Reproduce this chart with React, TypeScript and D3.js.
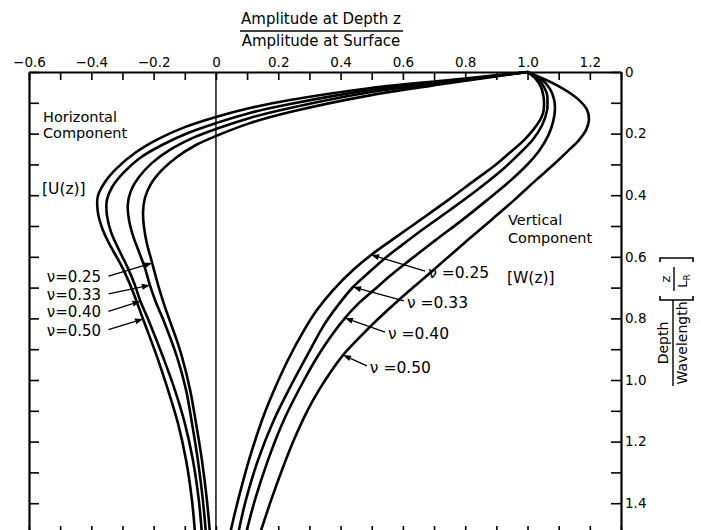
import { useEffect, useRef } from "react";
import * as d3 from "d3";

type Pt = [number, number]; // [amplitude ratio, depth / wavelength]

const poissonRatios = ["0.25", "0.33", "0.40", "0.50"];

// Horizontal component U(z) / U(0)
const horizNu025: Pt[] = [
  [1.0, 0], [0.751, 0.036], [0.498, 0.075], [0.238, 0.13], [0.109, 0.166], [0, 0.208],
  [-0.064, 0.237], [-0.125, 0.276], [-0.173, 0.318], [-0.209, 0.364], [-0.228, 0.409],
  [-0.234, 0.455], [-0.231, 0.503], [-0.222, 0.555], [-0.209, 0.604], [-0.196, 0.653],
  [-0.183, 0.701], [-0.167, 0.753], [-0.148, 0.808], [-0.128, 0.864], [-0.109, 0.925],
  [-0.083, 1.032], [-0.064, 1.14], [-0.045, 1.26], [-0.029, 1.39], [-0.019, 1.5],
];
const horizNu033: Pt[] = [
  [1.0, 0], [0.751, 0.032], [0.498, 0.065], [0.238, 0.117], [0.109, 0.149], [0, 0.185],
  [-0.074, 0.214], [-0.148, 0.253], [-0.205, 0.295], [-0.247, 0.341], [-0.273, 0.386],
  [-0.283, 0.432], [-0.279, 0.481], [-0.266, 0.532], [-0.247, 0.584], [-0.228, 0.636],
  [-0.212, 0.692], [-0.193, 0.747], [-0.17, 0.802], [-0.125, 0.925], [-0.096, 1.032],
  [-0.077, 1.14], [-0.058, 1.26], [-0.042, 1.39], [-0.032, 1.5],
];
const horizNu040: Pt[] = [
  [1.0, 0], [0.751, 0.029], [0.498, 0.058], [0.238, 0.104], [0.109, 0.133], [0, 0.166],
  [-0.09, 0.198], [-0.173, 0.237], [-0.244, 0.279], [-0.295, 0.325], [-0.331, 0.37],
  [-0.35, 0.416], [-0.35, 0.464], [-0.337, 0.519], [-0.311, 0.578], [-0.283, 0.636],
  [-0.26, 0.692], [-0.244, 0.74], [-0.218, 0.802], [-0.17, 0.925], [-0.132, 1.032],
  [-0.1, 1.14], [-0.074, 1.26], [-0.055, 1.39], [-0.045, 1.5],
];
const horizNu050: Pt[] = [
  [1.0, 0], [0.751, 0.026], [0.498, 0.052], [0.238, 0.091], [0.109, 0.117], [0, 0.146],
  [-0.1, 0.179], [-0.186, 0.218], [-0.26, 0.263], [-0.318, 0.312], [-0.356, 0.357],
  [-0.379, 0.403], [-0.379, 0.455], [-0.363, 0.513], [-0.337, 0.568], [-0.308, 0.62],
  [-0.286, 0.666], [-0.266, 0.714], [-0.234, 0.802], [-0.189, 0.925], [-0.154, 1.032],
  [-0.122, 1.14], [-0.096, 1.26], [-0.077, 1.39], [-0.067, 1.5],
];

// Vertical component W(z) / W(0)
const vertNu025: Pt[] = [
  [1.0, 0], [1.027, 0.023], [1.043, 0.049], [1.051, 0.078], [1.053, 0.107], [1.05, 0.133],
  [1.04, 0.156], [1.018, 0.188], [0.989, 0.221], [0.953, 0.253], [0.897, 0.302],
  [0.831, 0.351], [0.745, 0.416], [0.655, 0.481], [0.565, 0.545], [0.498, 0.594],
  [0.44, 0.643], [0.376, 0.708], [0.324, 0.773], [0.283, 0.838], [0.231, 0.935],
  [0.173, 1.065], [0.148, 1.13], [0.106, 1.26], [0.071, 1.39], [0.045, 1.5],
];
const vertNu033: Pt[] = [
  [1.0, 0], [1.034, 0.023], [1.053, 0.049], [1.063, 0.075], [1.064, 0.097], [1.063, 0.123],
  [1.047, 0.172], [1.016, 0.221], [0.97, 0.269], [0.918, 0.318], [0.838, 0.383],
  [0.751, 0.448], [0.661, 0.513], [0.597, 0.562], [0.536, 0.61], [0.482, 0.659],
  [0.44, 0.698], [0.392, 0.757], [0.347, 0.821], [0.302, 0.903], [0.25, 1.0],
  [0.186, 1.13], [0.135, 1.26], [0.096, 1.39], [0.071, 1.5],
];
const vertNu040: Pt[] = [
  [1.0, 0], [1.047, 0.026], [1.072, 0.055], [1.085, 0.088], [1.088, 0.123], [1.082, 0.162],
  [1.067, 0.205], [1.039, 0.253], [0.998, 0.302], [0.947, 0.351], [0.87, 0.416],
  [0.79, 0.481], [0.706, 0.545], [0.623, 0.61], [0.562, 0.659], [0.507, 0.708],
  [0.453, 0.756], [0.414, 0.799], [0.372, 0.854], [0.329, 0.919], [0.283, 1.0],
  [0.218, 1.13], [0.167, 1.26], [0.125, 1.39], [0.096, 1.5],
];
const vertNu050: Pt[] = [
  [1.0, 0], [1.098, 0.045], [1.162, 0.088], [1.191, 0.123], [1.197, 0.156], [1.188, 0.188],
  [1.165, 0.221], [1.13, 0.256], [1.082, 0.302], [1.027, 0.351], [0.957, 0.416],
  [0.883, 0.481], [0.809, 0.545], [0.735, 0.61], [0.661, 0.675], [0.587, 0.74],
  [0.517, 0.805], [0.453, 0.87], [0.408, 0.919], [0.372, 0.968], [0.331, 1.032],
  [0.295, 1.097], [0.25, 1.195], [0.212, 1.292], [0.177, 1.39], [0.141, 1.5],
];

const horizCurves = [horizNu025, horizNu033, horizNu040, horizNu050];
const vertCurves = [vertNu025, vertNu033, vertNu040, vertNu050];

// axis ticks
const ampTicks = d3.range(-6, 14).map((i) => i / 10);
const ampLabelValues = [-0.6, -0.4, -0.2, 0, 0.2, 0.4, 0.6, 0.8, 1.0, 1.2];
const ampLabelText = ["−0.6", "−0.4", "−0.2", "0", "0.2", "0.4", "0.6", "0.8", "1.0", "1.2"];
const depthTicks = d3.range(0, 16).map((i) => i / 10);
const depthLabelValues = [0, 0.2, 0.4, 0.6, 0.8, 1.0, 1.2, 1.4];
const depthLabelText = ["0", "0.2", "0.4", "0.6", "0.8", "1.0", "1.2", "1.4"];

// ν callouts: text baseline depth and arrow-tip depth on the matching curve
const horizLabelDepth = [0.682, 0.74, 0.797, 0.856];
const horizTipDepth = [0.62, 0.692, 0.744, 0.802];
const vertLabelDepth = [0.669, 0.766, 0.867, 0.977];
const vertLabelAmp = [0.681, 0.613, 0.552, 0.494];
const vertTipDepth = [0.594, 0.698, 0.799, 0.919];

const FONT = "DejaVu Sans";

function ampAt(curve: Pt[], depth: number) {
  for (let i = 1; i < curve.length; i++) {
    const [a0, d0] = curve[i - 1];
    const [a1, d1] = curve[i];
    if (depth >= d0 && depth <= d1) return a0 + ((depth - d0) / (d1 - d0)) * (a1 - a0);
  }
  return curve[curve.length - 1][0];
}

export default function App() {
  const svgRef = useRef<SVGSVGElement>(null);

  useEffect(() => {
    if (!svgRef.current) return;
    const width = 701;
    const height = 530;

    const x = d3.scaleLinear().domain([-0.6, 1.3]).range([29, 621]);
    const y = d3.scaleLinear().domain([0, 1.5]).range([72, 534]);

    const svg = d3.select(svgRef.current).attr("width", width).attr("height", height);
    svg.selectAll("*").remove();

    svg.append("rect").attr("width", width).attr("height", height).attr("fill", "#fff");

    const fmt = (vals: number[], texts: string[]) => (d: any) => {
      const i = vals.findIndex((v) => Math.abs(v - Number(d)) < 1e-6);
      return i >= 0 ? texts[i] : "";
    };

    const styleAxis = (g: any) => {
      g.select(".domain").attr("stroke", "#000").attr("stroke-width", 2.2);
      g.selectAll(".tick line").attr("stroke", "#000").attr("stroke-width", 1.6);
      g.selectAll(".tick text")
        .attr("fill", "#000")
        .attr("font-size", "13.5px")
        .attr("font-family", FONT);
    };

    // top axis (amplitude)
    svg.append("g")
      .attr("transform", `translate(0,${y(0)})`)
      .call(d3.axisTop(x).tickValues(ampTicks).tickSizeInner(-8).tickSizeOuter(0).tickPadding(5)
        .tickFormat(fmt(ampLabelValues, ampLabelText)))
      .call(styleAxis);

    // bottom axis, ticks only
    svg.append("g")
      .attr("transform", `translate(0,${y(1.5)})`)
      .call(d3.axisBottom(x).tickValues(ampTicks).tickSizeInner(-8).tickSizeOuter(0).tickFormat(() => ""))
      .call(styleAxis);

    // left axis, ticks only
    svg.append("g")
      .attr("transform", `translate(${x(-0.6)},0)`)
      .call(d3.axisLeft(y).tickValues(depthTicks).tickSizeInner(-10).tickSizeOuter(0).tickFormat(() => ""))
      .call(styleAxis);

    // right axis (depth)
    svg.append("g")
      .attr("transform", `translate(${x(1.3)},0)`)
      .call(d3.axisRight(y).tickValues(depthTicks).tickSizeInner(-10).tickSizeOuter(0).tickPadding(4)
        .tickFormat(fmt(depthLabelValues, depthLabelText)))
      .call(styleAxis);

    // zero line
    svg.append("line")
      .attr("x1", x(0)).attr("x2", x(0))
      .attr("y1", y(0)).attr("y2", y(1.5))
      .attr("stroke", "#000").attr("stroke-width", 1.4);

    const line = d3.line<Pt>()
      .x((d) => x(d[0]))
      .y((d) => y(d[1]))
      .curve(d3.curveCatmullRom.alpha(0.5));

    [...horizCurves, ...vertCurves].forEach((c) => {
      svg.append("path")
        .datum(c)
        .attr("fill", "none")
        .attr("stroke", "#000")
        .attr("stroke-width", 2.6)
        .attr("stroke-linejoin", "round")
        .attr("d", line);
    });

    const arrow = (x1: number, y1: number, x2: number, y2: number) => {
      const ang = Math.atan2(y2 - y1, x2 - x1);
      const len = 8;
      const hw = 3;
      const bx = x2 - len * Math.cos(ang);
      const by = y2 - len * Math.sin(ang);
      svg.append("line")
        .attr("x1", x1).attr("y1", y1).attr("x2", bx).attr("y2", by)
        .attr("stroke", "#000").attr("stroke-width", 1.3);
      svg.append("path")
        .attr("d", `M${x2},${y2}L${bx - hw * Math.sin(ang)},${by + hw * Math.cos(ang)}L${bx + hw * Math.sin(ang)},${by - hw * Math.cos(ang)}Z`)
        .attr("fill", "#000");
    };

    const label = (tx: number, ty: number, s: string, size = 14.5, anchor = "start") =>
      svg.append("text")
        .attr("x", tx).attr("y", ty)
        .attr("font-family", FONT)
        .attr("font-size", `${size}px`)
        .attr("text-anchor", anchor)
        .attr("fill", "#000")
        .text(s);

    // ν callouts on the horizontal component
    poissonRatios.forEach((nu, i) => {
      const by = y(horizLabelDepth[i]);
      label(x(-0.543), by, `ν=${nu}`, 15);
      const tipD = horizTipDepth[i];
      arrow(x(-0.345), by - 6, x(ampAt(horizCurves[i], tipD)), y(tipD));
    });

    // ν callouts on the vertical component
    poissonRatios.forEach((nu, i) => {
      const tx = x(vertLabelAmp[i]);
      const by = y(vertLabelDepth[i]);
      label(tx, by, `ν =${nu}`, 15.5);
      const tipD = vertTipDepth[i];
      arrow(tx - 3, by - 7, x(ampAt(vertCurves[i], tipD)), y(tipD));
    });

    // component captions
    label(43, 122, "Horizontal");
    label(43, 138, "Component");
    label(42, 194, "[U(z)]", 15.5);
    label(508, 225, "Vertical");
    label(508, 243, "Component");
    label(507, 283, "[W(z)]", 15.5);

    // title fraction
    label(321, 24, "Amplitude  at  Depth  z", 15, "middle");
    svg.append("line")
      .attr("x1", 240).attr("x2", 403).attr("y1", 31).attr("y2", 31)
      .attr("stroke", "#000").attr("stroke-width", 1.4);
    label(321, 46, "Amplitude  at  Surface", 15, "middle");

    // right side rotated label: Depth / Wavelength  [z / L_R]
    const g1 = svg.append("g").attr("transform", "translate(673,343) rotate(-90)");
    g1.append("text").attr("x", 0).attr("y", -5).attr("text-anchor", "middle")
      .attr("font-family", FONT).attr("font-size", "14px").text("Depth");
    g1.append("line").attr("x1", -43).attr("x2", 43).attr("y1", 0).attr("y2", 0)
      .attr("stroke", "#000").attr("stroke-width", 1.4);
    g1.append("text").attr("x", 0).attr("y", 14).attr("text-anchor", "middle")
      .attr("font-family", FONT).attr("font-size", "14px").text("Wavelength");

    const g2 = svg.append("g").attr("transform", "translate(674,279) rotate(-90)");
    g2.append("text").attr("x", 0).attr("y", -4).attr("text-anchor", "middle")
      .attr("font-family", FONT).attr("font-size", "13px").text("z");
    g2.append("line").attr("x1", -12).attr("x2", 12).attr("y1", 0).attr("y2", 0)
      .attr("stroke", "#000").attr("stroke-width", 1.4);
    const lr = g2.append("text").attr("x", -2).attr("y", 13).attr("text-anchor", "middle")
      .attr("font-family", FONT).attr("font-size", "13px");
    lr.append("tspan").text("L");
    lr.append("tspan").attr("font-size", "9px").attr("dy", 3).text("R");
    g2.append("path")
      .attr("d", "M-17,-14H-21V19H-17M17,-14H21V19H17")
      .attr("fill", "none").attr("stroke", "#000").attr("stroke-width", 1.6);
  }, []);

  return (
    <svg
      ref={svgRef}
      width={701}
      height={530}
      style={{ position: "absolute", left: 0, top: 0, display: "block" }}
    />
  );
}
